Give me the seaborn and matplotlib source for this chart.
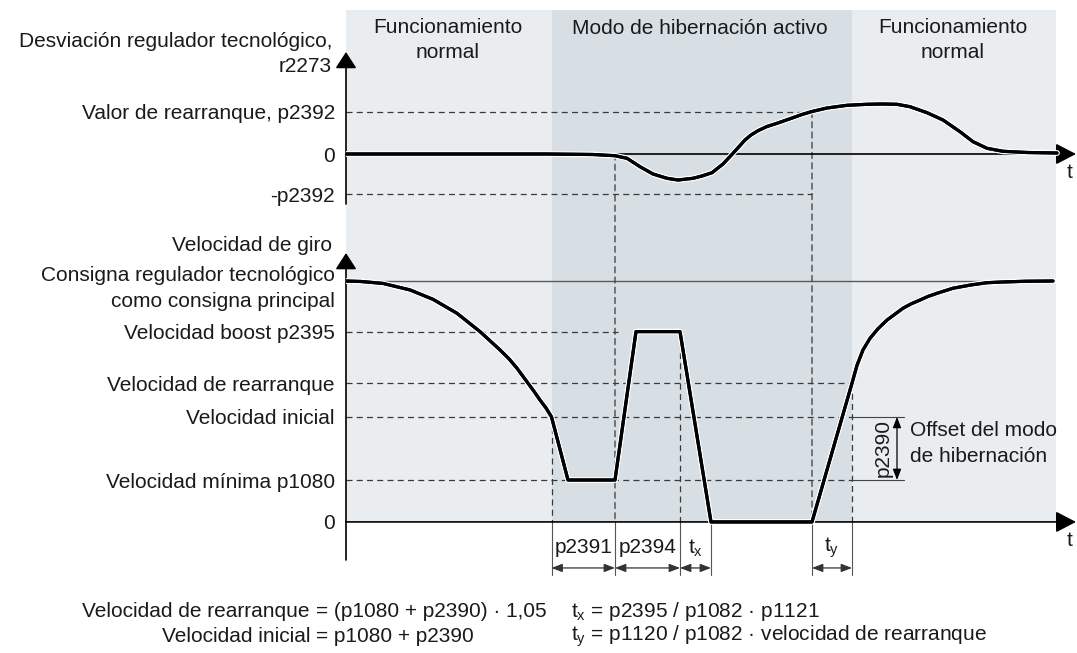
import matplotlib
matplotlib.use("Agg")
import matplotlib.pyplot as plt
import matplotlib.patheffects as pe
from matplotlib.patches import ConnectionPatch
import seaborn as sns

# ---------------- data ----------------
# levels of the controller deviation r2273 (arbitrary units)
DEV_RESTART = 4.25      # p2392
DEV_RESTART_NEG = -4.0  # -p2392

# speed levels (% of the setpoint)
SPEED_SETPOINT = 100.0
SPEED_BOOST = 79.0      # p2395
SPEED_RESTART = 57.6
SPEED_START = 43.6
SPEED_MIN = 17.4        # p1080

# key instants (time units)
T_START = 20.55
T_BOOST_ON = 26.9
T_BOOST_OFF = 33.4
T_STOP = 36.5
T_RESTART = 46.6
T_RESTART_END = 50.6

# operating phases
PHASE_T = [0.0, 20.6, 50.6, 71.0]
PHASE_LABELS = ["Funcionamiento\nnormal", "Modo de hibernación activo", "Funcionamiento\nnormal"]

# controller deviation curve
DEV_T = [0.0, 20.0, 24.7, 26.9, 28.1, 29.4, 30.7, 32.1, 33.2, 34.7, 35.6, 36.6, 37.7, 38.7,
         39.9, 40.5, 41.2, 42.1, 43.1, 44.7, 45.6, 46.6, 48.1, 50.1, 52.1, 53.6, 55.1, 56.4,
         58.1, 59.7, 61.4, 62.7, 64.1, 65.7, 68.1, 71.1]
DEV_VAL = [0.0, 0.0, -0.05, -0.17, -0.43, -1.27, -2.0, -2.43, -2.6, -2.43, -2.2, -1.87, -1.0, 0.07,
           1.4, 1.9, 2.33, 2.75, 3.07, 3.63, 3.95, 4.25, 4.6, 4.87, 4.97, 5.0, 4.97, 4.73,
           4.13, 3.4, 2.23, 1.23, 0.57, 0.27, 0.15, 0.1]

# motor speed curve
SPEED_T = [0.0, 1.5, 3.7, 6.4, 8.7, 11.1, 13.4, 15.4, 16.3, 17.1, 18.2, 18.8, 19.4, 20.0, 20.55,
           22.2, 26.9, 29.0, 33.4, 36.5, 46.6, 50.6, 51.1, 51.7, 52.4, 53.2, 54.1, 55.7,
           56.5, 57.4, 58.2, 59.1, 60.7, 62.4, 64.1, 65.7, 68.0, 70.7]
SPEED_VAL = [100.0, 99.8, 99.0, 96.3, 92.4, 86.6, 79.0, 71.4, 67.7, 63.8, 57.6, 54.2, 50.6, 47.3, 43.6,
             17.4, 17.4, 79.0, 79.0, 0.0, 0.0, 57.6, 65.0, 71.4, 76.2, 80.2, 83.8, 88.7,
             90.5, 92.1, 93.6, 94.9, 97.0, 98.3, 99.3, 99.6, 99.9, 100.0]

TOP_TICKS = [DEV_RESTART, 0.0, DEV_RESTART_NEG]
TOP_TICK_LABELS = ["Valor de rearranque, p2392", "0", "-p2392"]
BOT_TICKS = [SPEED_BOOST, SPEED_RESTART, SPEED_START, SPEED_MIN, 0.0]
BOT_TICK_LABELS = ["Velocidad boost p2395", "Velocidad de rearranque", "Velocidad inicial",
                   "Velocidad mínima p1080", "0"]

# ---------------- style ----------------
sns.set_theme(style="white")
plt.rcParams["font.family"] = ["Liberation Sans", "DejaVu Sans"]
plt.rcParams["mathtext.fontset"] = "custom"
plt.rcParams["mathtext.rm"] = "Liberation Sans"
plt.rcParams["mathtext.it"] = "Liberation Sans"

FS = 15
LSP = 1.45

TXT = "#1a1a1a"
LIGHT = "#E9EDF0"
DARK = "#D7DFE4"
DASH_C = "#3a3a3a"
DASH = (0, (4.8, 3.4))
CURVE_FX = [pe.withStroke(linewidth=4.2, foreground="white"), pe.Normal()]

fig = plt.figure(figsize=(10.77, 6.53), dpi=100)
left = 346 / 1077
width = 1 - left
split = (653 - 215) / 653
ax_bot = fig.add_axes([left, 0.0, width, split], zorder=0)
ax_top = fig.add_axes([left, split, width, 1 - split], zorder=1)

XMAX = 73.1
ax_top.set_xlim(0, XMAX)
ax_top.set_ylim(-6.1, 15.4)
ax_bot.set_xlim(0, XMAX)
ax_bot.set_ylim(-54.4, 127.4)
for ax in (ax_top, ax_bot):
    ax.set_facecolor("none")
    sns.despine(ax=ax, left=True, bottom=True)
    ax.set_xticks([])
    ax.tick_params(axis="y", length=0, pad=8, labelsize=FS, labelcolor=TXT)

ax_top.set_yticks(TOP_TICKS, TOP_TICK_LABELS)
ax_bot.set_yticks(BOT_TICKS, BOT_TICK_LABELS)

# ---------------- background phases ----------------
SHADE_TOP = 212.4  # upper edge of the phase bands (speed units, spills into upper panel)
ax_bot.fill_between([PHASE_T[0], PHASE_T[3]], 0, SHADE_TOP, color=LIGHT, lw=0,
                    clip_on=False, zorder=0)
ax_bot.fill_between([PHASE_T[1], PHASE_T[2]], 0, SHADE_TOP, color=DARK, lw=0,
                    clip_on=False, zorder=0)

title_y = [11.4, 12.6, 11.4]
title_x = [10.2, 35.4, 60.7]
for xc, yc, lab in zip(title_x, title_y, PHASE_LABELS):
    ax_top.text(xc, yc, lab, ha="center", va="center", fontsize=FS,
                color=TXT, linespacing=LSP)

# ---------------- axis arrows ----------------
def axis_arrow(ax, start, end, hl=1.0):
    ax.annotate("", xy=end, xytext=start, annotation_clip=False,
                arrowprops=dict(arrowstyle=f"-|>,head_length={hl},head_width=0.65",
                                mutation_scale=10, lw=1.2, color="black",
                                shrinkA=0, shrinkB=0))

axis_arrow(ax_top, (0, -5.0), (0, 10.2))
axis_arrow(ax_top, (0, 0), (73.0, 0), hl=1.25)
axis_arrow(ax_bot, (0, -15.8), (0, 111.6))
axis_arrow(ax_bot, (0, 0), (73.0, 0), hl=1.25)
ax_top.text(72.4, -1.9, "t", ha="center", va="center", fontsize=FS, color=TXT)
ax_bot.text(72.4, -7.9, "t", ha="center", va="center", fontsize=FS, color=TXT)

# axis titles
ax_top.text(-1.4, 10.0, "Desviación regulador tecnológico,\nr2273", ha="right", va="center",
            fontsize=FS, color=TXT, linespacing=LSP)
ax_bot.text(-1.4, 114.9, "Velocidad de giro", ha="right", va="center", fontsize=FS, color=TXT)
ax_bot.text(-1.1, 96.8, "Consigna regulador tecnológico\ncomo consigna principal", ha="right",
            va="center", fontsize=FS, color=TXT, linespacing=LSP)

# ---------------- guide lines ----------------
dkw = dict(color=DASH_C, lw=0.9, linestyle=DASH, zorder=1)
ax_top.plot([0, T_RESTART], [DEV_RESTART, DEV_RESTART], **dkw)
ax_top.plot([0, T_RESTART], [DEV_RESTART_NEG, DEV_RESTART_NEG], **dkw)

ax_bot.plot([0, 27.2], [SPEED_BOOST, SPEED_BOOST], **dkw)
ax_bot.plot([0, T_RESTART_END], [SPEED_RESTART, SPEED_RESTART], **dkw)
ax_bot.plot([0, T_RESTART_END], [SPEED_START, SPEED_START], **dkw)
ax_bot.plot([0, T_RESTART_END], [SPEED_MIN, SPEED_MIN], **dkw)
ax_bot.plot([0, 70.7], [SPEED_SETPOINT, SPEED_SETPOINT], color="#5a5a5a", lw=1.0, zorder=1)

# solid extensions for the offset dimension
OFFSET_T = 55.1
ax_bot.plot([T_RESTART_END, 55.8], [SPEED_START, SPEED_START], color="#444444", lw=0.8, zorder=1)
ax_bot.plot([T_RESTART_END, 55.8], [SPEED_MIN, SPEED_MIN], color="#444444", lw=0.8, zorder=1)

# vertical guides in the speed panel
ax_bot.plot([T_START, T_START], [SPEED_START, 0], **dkw)
ax_bot.plot([T_BOOST_OFF, T_BOOST_OFF], [SPEED_BOOST, 0], **dkw)
ax_bot.plot([T_RESTART_END, T_RESTART_END], [SPEED_RESTART, 0], **dkw)

# vertical guides running through both panels
for t_mark, dev_level in [(T_BOOST_ON, 0.0), (T_RESTART, DEV_RESTART)]:
    con = ConnectionPatch(xyA=(t_mark, dev_level), coordsA=ax_top.transData,
                          xyB=(t_mark, 0.0), coordsB=ax_bot.transData,
                          color=DASH_C, lw=0.9, linestyle=DASH, zorder=1)
    con.set_clip_on(False)
    ax_bot.add_artist(con)

# extension lines below the time axis
DIM_LOW = -22.0
for t_mark in [T_START, T_BOOST_ON, T_BOOST_OFF, T_STOP, T_RESTART, T_RESTART_END]:
    ax_bot.plot([t_mark, t_mark], [0, DIM_LOW], color="#555555", lw=0.8, clip_on=False, zorder=1)

# ---------------- curves ----------------
sns.lineplot(x=DEV_T, y=DEV_VAL, ax=ax_top, color="black", lw=2.3, sort=False,
             estimator=None, zorder=3)
ax_top.lines[-1].set_path_effects(CURVE_FX)
sns.lineplot(x=SPEED_T, y=SPEED_VAL, ax=ax_bot, color="black", lw=2.3, sort=False,
             estimator=None, zorder=3)
ax_bot.lines[-1].set_path_effects(CURVE_FX)

# ---------------- dimensions ----------------
def dim_arrow(ax, p0, p1, color="#333333"):
    ax.annotate("", xy=p1, xytext=p0, annotation_clip=False,
                arrowprops=dict(arrowstyle="<|-|>,head_length=0.65,head_width=0.25",
                                mutation_scale=10, lw=0.9, color=color,
                                shrinkA=0, shrinkB=0))

DIM_Y = -19.1
DIM_TXT_Y = -10.8
spans = [(T_START, T_BOOST_ON, "p2391"), (T_BOOST_ON, T_BOOST_OFF, "p2394"),
         (T_BOOST_OFF, T_STOP, r"$\mathregular{t_x}$"), (T_RESTART, T_RESTART_END, r"$\mathregular{t_y}$")]
for a, b, lab in spans:
    dim_arrow(ax_bot, (a, DIM_Y), (b, DIM_Y))
    ax_bot.text((a + b) / 2, DIM_TXT_Y, lab, ha="center", va="center", fontsize=FS, color=TXT)

dim_arrow(ax_bot, (OFFSET_T, SPEED_START), (OFFSET_T, SPEED_MIN), color="black")
ax_bot.text(53.7, 30.7, "p2390", rotation=90, ha="center", va="center", fontsize=FS, color=TXT)
ax_bot.text(56.4, 32.5, "Offset del modo\nde hibernación", ha="left", va="center",
            fontsize=FS, color=TXT, linespacing=LSP)

# ---------------- formulas ----------------
F1, F2 = -37.2, -47.6
fkw = dict(fontsize=FS, color=TXT, va="center")
ax_bot.text(-3.6, F1, "Velocidad de rearranque", ha="right", **fkw)
ax_bot.text(-3.0, F1, "= (p1080 + p2390) · 1,05", ha="left", **fkw)
ax_bot.text(-3.6, F2, "Velocidad inicial", ha="right", **fkw)
ax_bot.text(-3.0, F2, "= p1080 + p2390", ha="left", **fkw)
ax_bot.text(22.5, F1, r"$\mathregular{t_x}$ = p2395 / p1082 · p1121", ha="left", **fkw)
ax_bot.text(22.5, F2, r"$\mathregular{t_y}$ = p1120 / p1082 · velocidad de rearranque",
            ha="left", **fkw)

fig.savefig("out.png", dpi=100)
